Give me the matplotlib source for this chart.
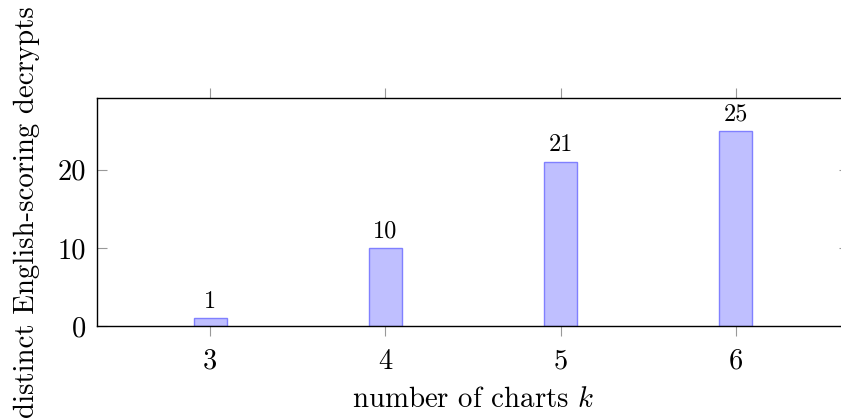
import matplotlib
matplotlib.use('Agg')
import matplotlib.pyplot as plt

# data
charts_k = [3, 4, 5, 6]
decrypts = [1, 10, 21, 25]

plt.rcParams['font.family'] = 'serif'
plt.rcParams['font.serif'] = ['cmr10', 'DejaVu Serif']
plt.rcParams['mathtext.fontset'] = 'cm'
plt.rcParams['axes.unicode_minus'] = False

fig = plt.figure(figsize=(8.41, 4.19), dpi=100)
ax = fig.add_axes([97 / 841, 93 / 419, 752 / 841, 228 / 419])

bars = ax.bar(charts_k, decrypts, width=0.188, color='#bfbfff', edgecolor='#8080ff', linewidth=1.0)
for x, v in zip(charts_k, decrypts):
    ax.annotate(str(v), (x, v), xytext=(0, 4), textcoords='offset points',
                ha='center', va='bottom', fontsize=17.5)

ax.set_xlim(2.355, 6.645)
ax.set_ylim(0, 29.2)
ax.set_xticks(charts_k)
ax.set_yticks([0, 10, 20])

ax.tick_params(axis='x', direction='out', length=7, width=0.8, color='#999999',
               top=True, labelsize=20.5, pad=9)
ax.tick_params(axis='y', direction='in', length=7, width=0.8, color='#999999',
               right=True, labelsize=20.5, pad=8)
for s in ax.spines.values():
    s.set_linewidth(1.0)
    s.set_color('black')

ax.set_xlabel(r'number of charts $k$', fontsize=20.8, labelpad=9)
ax.set_ylabel('distinct English-scoring decrypts', fontsize=20.8)
ax.yaxis.set_label_coords(-0.076, 0.5)

fig.savefig('out.png', dpi=100)
